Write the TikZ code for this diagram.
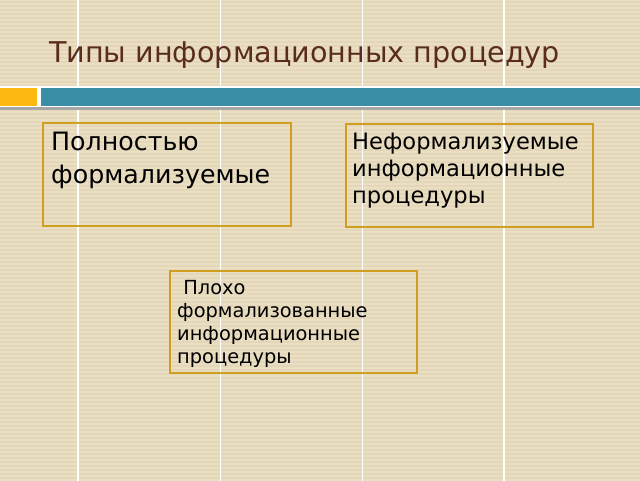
\documentclass[tikz,border=0pt]{standalone}
\usepackage{fontspec}
\setmainfont{DejaVu Sans}
\usetikzlibrary{positioning}

\definecolor{fon}{HTML}{EADFC4}
\definecolor{polosa}{HTML}{E4D7B8}
\definecolor{zagolovok}{HTML}{5A2C1C}
\definecolor{ramka}{HTML}{D09E20}
\definecolor{oranzh}{HTML}{FDB812}
\definecolor{biryuza}{HTML}{3A8FA6}

\tikzset{
    blok/.style={draw=ramka, line width=1.8pt, anchor=north west, inner sep=0pt},
    tekst/.style={anchor=north west, inner sep=0pt, align=left, text=black}
}

\begin{document}
\begin{tikzpicture}[x=1pt, y=-1pt]
    % Fon slajda
    \useasboundingbox (0,0) rectangle (640,480);
    \clip (0,0) rectangle (640,480);
    \fill[fon] (-2,-2) rectangle (642,482);
    \foreach \y in {2,6,...,478}
        \draw[polosa, line width=1.5pt] (-2,\y) -- (642,\y);
    \foreach \x in {78,220.5,362.5,504}
        \draw[white, line width=1.2pt] (\x,-2) -- (\x,482);

    % Zagolovok
    \node[anchor=base west, inner sep=0pt, text=zagolovok,
          font=\fontsize{28.6}{34}\selectfont] (zag) at (49,62)
          {Типы информационных процедур};

    % Polosy pod zagolovkom
    \fill[white] (-2,86) rectangle (642,107);
    \fill[oranzh] (-2,88) rectangle (37,106);
    \fill[biryuza] (41,88) rectangle (642,106);
    \fill[gray!70] (-2,107) rectangle (642,110);

    % Bloki
    \node[blok, minimum width=248pt, minimum height=103pt] (b1) at (42,122) {};
    \node[blok, minimum width=247pt, minimum height=103pt] (b2) at (345,123) {};
    \node[blok, minimum width=247pt, minimum height=102pt] (b3) at (169,270) {};

    % Teksty v blokah
    \node[tekst, font=\fontsize{25.3}{32.5}\selectfont] (t1) at ([shift={(9,10)}]b1.north west)
        {Полностью\\формализуемые};
    \node[tekst, font=\fontsize{22.6}{27}\selectfont] (t2) at ([shift={(7,10)}]b2.north west)
        {Неформализуемые\\информационные\\процедуры};
    \node[tekst, font=\fontsize{19.4}{23}\selectfont] (t3) at ([shift={(8,10)}]b3.north west)
        {\ Плохо\\формализованные\\информационные\\процедуры};
\end{tikzpicture}
\end{document}
